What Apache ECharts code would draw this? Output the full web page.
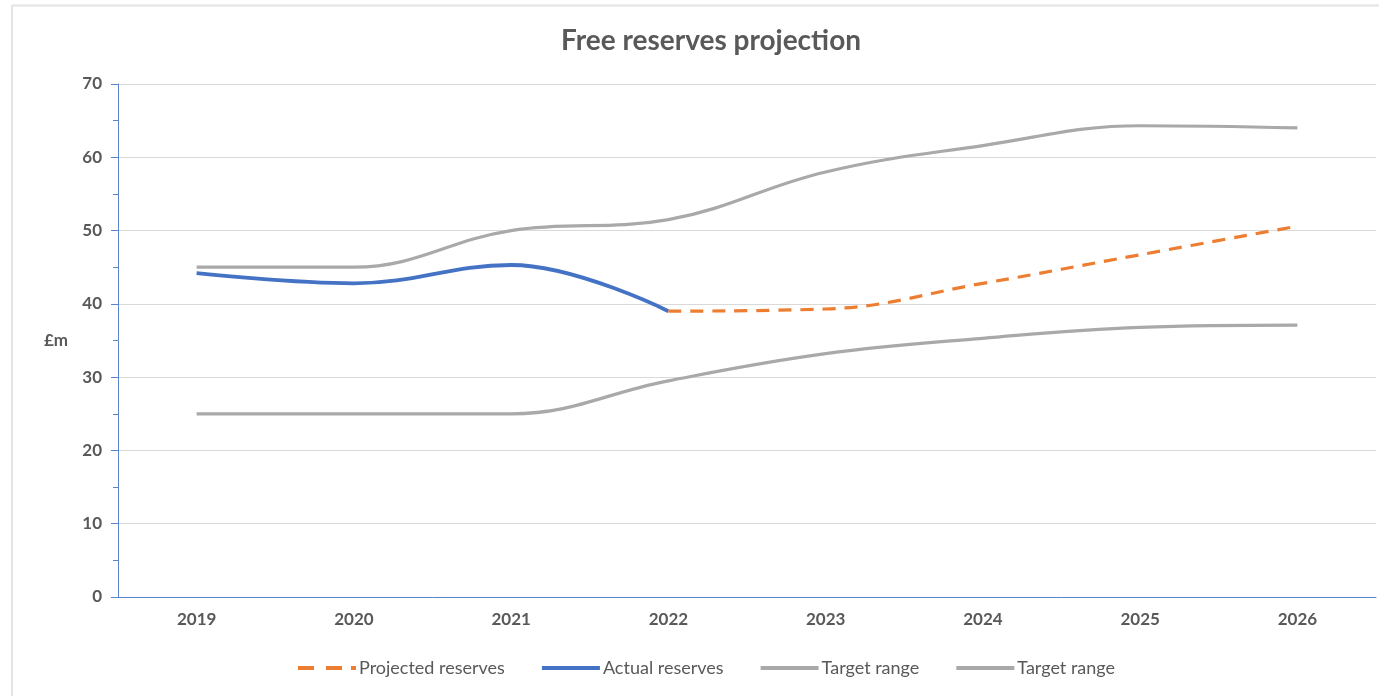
<!DOCTYPE html>
<html>
<head>
<meta charset="utf-8">
<script src="https://cdn.jsdelivr.net/npm/echarts@6/dist/echarts.min.js"></script>
<style>
  html, body { margin: 0; padding: 0; background: #ffffff; }
  #chart { width: 1379px; height: 696px; }
</style>
</head>
<body>
<div id="chart"></div>
<script>
// Years along the horizontal axis
const years = ['2019', '2020', '2021', '2022', '2023', '2024', '2025', '2026'];

// Reserves in £m
const actualReserves    = [44.2, 42.8, 45.3, 39.0, null, null, null, null];
const projectedReserves = [null, null, null, 39.0, 39.3, 42.8, 46.7, 50.6];
const targetUpper       = [45.0, 45.0, 50.0, 51.5, 58.0, 61.6, 64.3, 64.0];
const targetLower       = [25.0, 25.0, 25.0, 29.5, 33.2, 35.3, 36.8, 37.1];

const textColor = '#595959';
const axisBlue = '#5b84d0';
const fontFamily = 'Lato, "Open Sans", sans-serif';

// legend swatches: dashed stroke for the projection, solid bars for the rest
const dashIcon = 'path://M0,0h16v4h-16z M28,0h16v4h-16z M53,0h5v4h-5z';
const solidIcon = 'path://M0,0h58v4h-58z';

const frame = [
  { type: 'line', shape: { x1: 12, y1: 5.5, x2: 1379, y2: 5.5 }, style: { stroke: '#e4e4e4', lineWidth: 2 }, silent: true },
  { type: 'line', shape: { x1: 12, y1: 5, x2: 12, y2: 696 }, style: { stroke: '#e4e4e4', lineWidth: 2 }, silent: true }
];

const chart = echarts.init(document.getElementById('chart'));

chart.setOption({
  animation: false,
  textStyle: { fontFamily: fontFamily },
  title: {
    text: 'Free reserves projection',
    left: 706,
    textAlign: 'center',
    top: 22,
    textStyle: { fontSize: 28, fontWeight: 'bold', color: textColor, fontFamily: fontFamily }
  },
  legend: {
    left: 293,
    top: 654,
    itemWidth: 58,
    itemHeight: 4,
    itemGap: 37,
    textStyle: { fontSize: 18, color: textColor, padding: [0, 0, 0, -2] },
    data: [
      { name: 'Projected reserves', icon: dashIcon },
      { name: 'Actual reserves', icon: solidIcon },
      { name: 'Target range', icon: solidIcon },
      { name: 'Target range ', icon: solidIcon }
    ]
  },
  grid: { left: 118, right: 3, top: 84, bottom: 99 },
  xAxis: {
    type: 'category',
    data: years,
    boundaryGap: true,
    axisLine: { lineStyle: { color: axisBlue, width: 1 } },
    axisTick: { alignWithLabel: true, length: 6, lineStyle: { color: axisBlue } },
    axisLabel: { margin: 14, fontSize: 17, fontWeight: 'bold', color: textColor }
  },
  yAxis: {
    type: 'value',
    min: 0,
    max: 70,
    interval: 10,
    name: '£m',
    nameLocation: 'middle',
    nameRotate: 0,
    nameGap: 50,
    nameTextStyle: { fontSize: 17, fontWeight: 'bold', color: textColor },
    axisLine: { show: true, lineStyle: { color: axisBlue, width: 1 } },
    axisTick: { show: true, length: 7, lineStyle: { color: axisBlue } },
    minorTick: { show: true, splitNumber: 2, length: 5, lineStyle: { color: axisBlue } },
    axisLabel: { margin: 16, fontSize: 17, fontWeight: 'bold', color: textColor },
    splitLine: { lineStyle: { color: '#d9d9d9', width: 1 } }
  },
  series: [
    {
      name: 'Target range',
      type: 'line',
      data: targetUpper,
      smooth: 0.4,
      symbol: 'none',
      lineStyle: { color: '#a9a9a9', width: 3.2 },
      itemStyle: { color: '#a9a9a9' },
      z: 2
    },
    {
      name: 'Target range ',
      type: 'line',
      data: targetLower,
      smooth: 0.4,
      symbol: 'none',
      lineStyle: { color: '#a9a9a9', width: 3.2 },
      itemStyle: { color: '#a9a9a9' },
      z: 2
    },
    {
      name: 'Actual reserves',
      type: 'line',
      data: actualReserves,
      smooth: 0.4,
      symbol: 'none',
      lineStyle: { color: '#4472c4', width: 3.8 },
      itemStyle: { color: '#4472c4' },
      z: 3
    },
    {
      name: 'Projected reserves',
      type: 'line',
      data: projectedReserves,
      smooth: 0.4,
      symbol: 'none',
      lineStyle: { color: '#ed7d31', width: 3.2, type: [13, 9] },
      itemStyle: { color: '#ed7d31' },
      z: 4
    }
  ],
  graphic: frame
});

// closing tick at the right end of the category axis
const endPt = chart.convertToPixel({ gridIndex: 0 }, [years.length - 0.5, 0]);
const endX = Math.round(endPt[0]) - 0.5;
chart.setOption({
  graphic: frame.concat([
    { type: 'line', shape: { x1: endX, y1: endPt[1], x2: endX, y2: endPt[1] + 6 }, style: { stroke: axisBlue, lineWidth: 1 }, silent: true }
  ])
});
</script>
</body>
</html>
